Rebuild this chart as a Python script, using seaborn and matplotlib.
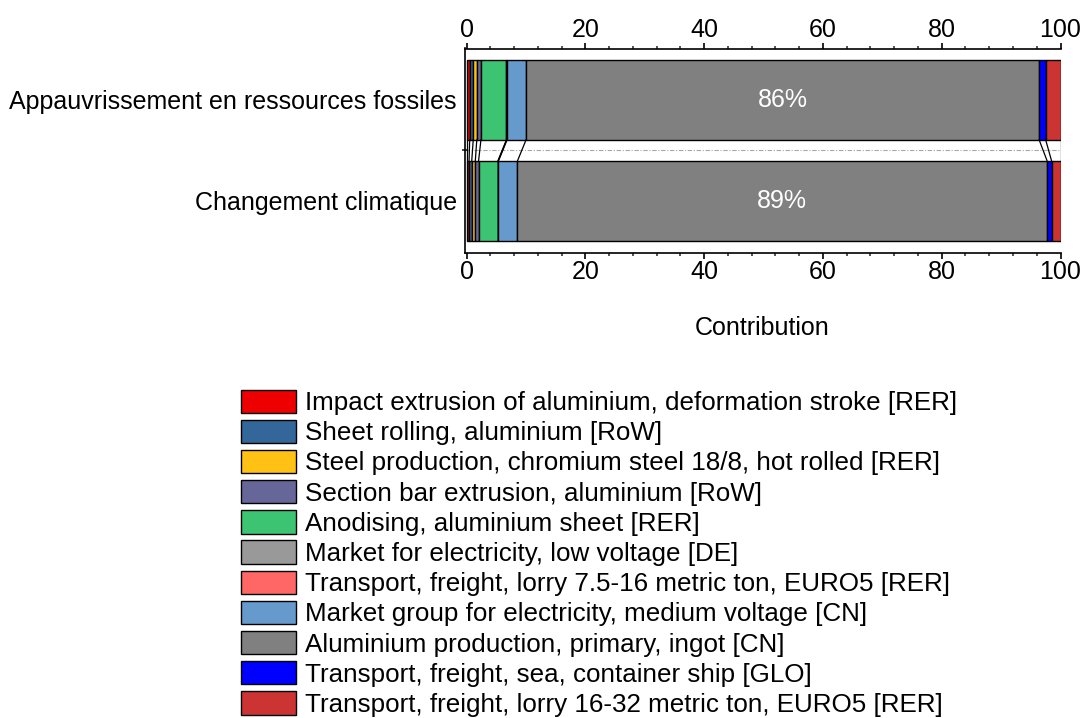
import numpy as np
import pandas as pd
import matplotlib
matplotlib.use("Agg")
import matplotlib.pyplot as plt
import seaborn as sns

categories = ["Appauvrissement en ressources fossiles", "Changement climatique"]
components = [
    "Impact extrusion of aluminium, deformation stroke [RER]",
    "Sheet rolling, aluminium [RoW]",
    "Steel production, chromium steel 18/8, hot rolled [RER]",
    "Section bar extrusion, aluminium [RoW]",
    "Anodising, aluminium sheet [RER]",
    "Market for electricity, low voltage [DE]",
    "Transport, freight, lorry 7.5-16 metric ton, EURO5 [RER]",
    "Market group for electricity, medium voltage [CN]",
    "Aluminium production, primary, ingot [CN]",
    "Transport, freight, sea, container ship [GLO]",
    "Transport, freight, lorry 16-32 metric ton, EURO5 [RER]",
]
fossil_values = [0.5, 0.6, 0.6, 0.7, 4.3, 0.05, 0.05, 3.2, 86.4, 1.1, 2.5]
climate_values = [0.4, 0.45, 0.6, 0.55, 3.25, 0.05, 0.05, 3.2, 89.2, 0.75, 1.5]
colors = ["#EE0000", "#336699", "#FFC114", "#666699", "#3CC473", "#999999",
          "#FF6666", "#6699CC", "#808080", "#0000FF", "#CC3333"]
x_ticks = [0, 20, 40, 60, 80, 100]
highlight = "Aluminium production, primary, ingot [CN]"

sns.set_theme(style="white")
plt.rcParams["font.family"] = ["Liberation Sans", "DejaVu Sans"]
plt.rcParams["text.color"] = "black"
plt.rcParams["axes.labelcolor"] = "black"
FS = 18

fig = plt.figure(figsize=(10.81, 7.18), dpi=100)
ax = fig.add_axes([464.5 / 1081, (718 - 252.7) / 718, 596 / 1081, 204.2 / 718])

vals = np.array([fossil_values, climate_values])  # shape (2, n)
cum = np.cumsum(vals, axis=1)
lefts = cum - vals
bar_w = 0.79

for j, (name, col) in enumerate(zip(components, colors)):
    df = pd.DataFrame({"cat": categories, "val": vals[:, j]})
    sns.barplot(data=df, x="val", y="cat", orient="h", color=col, saturation=1,
                errorbar=None, width=bar_w, left=lefts[:, j], edgecolor="black",
                linewidth=1.0, label=name, ax=ax)
if ax.get_legend() is not None:
    ax.get_legend().remove()

# connecting lines between segment boundaries
bounds = np.hstack([np.zeros((2, 1)), cum])
for k in range(bounds.shape[1]):
    ax.plot([bounds[0, k], bounds[1, k]], [0 + bar_w / 2, 1 - bar_w / 2],
            color="black", lw=0.9, zorder=3)

# labels in highlighted segment
hi = components.index(highlight)
for i in range(2):
    ax.text(lefts[i, hi] + vals[i, hi] / 2, i, f"{vals[i, hi]:.0f}%",
            color="white", ha="center", va="center", fontsize=FS)

ax.set_xlim(-0.37, 100)
ax.set_ylim(1.515, -0.51)
ax.set_xticks(x_ticks)
ax.set_xticks(np.arange(0, 101, 4), minor=True)
ax.set_yticks([0.5], minor=True)
ax.grid(False)
ax.grid(which="minor", axis="y", color="#A8A8A8", lw=0.8, ls=(0, (4, 1.5, 1, 1.5)))

for s in ["top", "bottom", "left"]:
    ax.spines[s].set_visible(True)
    ax.spines[s].set_color("black")
    ax.spines[s].set_linewidth(1.2)
ax.spines["right"].set_visible(False)

ax.xaxis.set_ticks_position("both")
ax.tick_params(axis="x", which="major", direction="out", length=4, width=1.2,
               labelsize=FS, top=True, bottom=True, labeltop=True, labelbottom=True,
               colors="black", pad=1)
ax.tick_params(axis="x", which="minor", direction="out", length=2.5, width=1.1,
               top=True, bottom=True)
ax.tick_params(axis="y", which="major", length=0, pad=5.5, labelsize=FS, colors="black")
ax.tick_params(axis="y", which="minor", direction="inout", length=5, width=1.2, left=True)
ax.set_ylabel("")
ax.set_xlabel("Contribution", fontsize=FS, labelpad=23, color="black")

h, l = ax.get_legend_handles_labels()
leg = fig.legend(h, l, loc="upper left", bbox_to_anchor=(241 / 1081, 1 - 389.5 / 718),
                 frameon=False, fontsize=18.7, handlelength=2.12, handleheight=1.0,
                 handletextpad=0.35, labelspacing=0.18, borderpad=0, borderaxespad=0)
for t in leg.get_texts():
    t.set_color("black")

fig.savefig("out.png", dpi=100)
